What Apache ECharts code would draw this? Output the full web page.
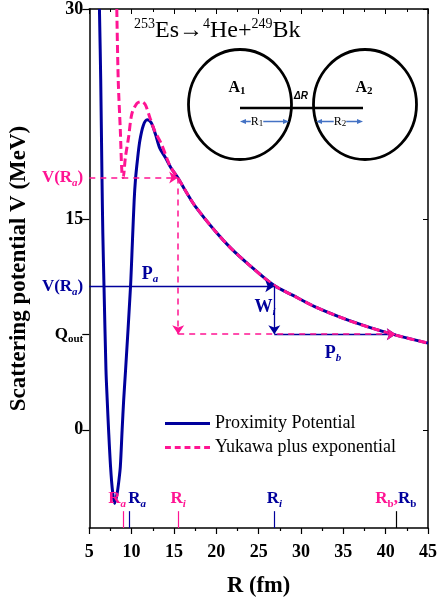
<!DOCTYPE html>
<html><head><meta charset="utf-8">
<script src="https://cdn.jsdelivr.net/npm/echarts@6/dist/echarts.min.js"></script>
<style>html,body{margin:0;padding:0;background:#fff}#c{width:440px;height:606px}</style>
</head><body><div id="c"></div>
<script>
// ---- data ----
const proxR = [6.2, 6.35, 6.5, 6.6, 6.74, 6.97, 7.12, 7.28, 7.51, 7.75, 8.0, 8.3, 8.5, 8.67, 8.88, 9.06, 9.29, 9.87, 10.1, 10.3, 10.45, 10.68, 10.97, 11.38, 11.84, 12.3, 12.8, 13.31, 14.0, 14.62, 15.43, 16.5, 17.5, 19.96, 21.8, 23.8, 26.8, 29.0, 31.55, 35.4, 38.0, 41.2, 45];
const proxV = [30, 25, 18, 14, 10.2, 4.3, 2.1, 0, -2.6, -4.4, -5.25, -4.5, -3.6, -2.6, 0, 2.1, 4.3, 10.2, 13.5, 16.35, 17.8, 19.2, 20.6, 21.7, 22.1, 21.9, 21.1, 20.1, 19.4, 18.7, 18.0, 16.9, 15.95, 14.1, 12.9, 11.8, 10.3, 9.6, 8.8, 7.85, 7.32, 6.75, 6.18];
const yukR = [8.25, 8.42, 8.67, 8.85, 9.0, 9.26, 9.64, 10.02, 10.6, 11.14, 11.6, 12.15, 12.73, 13.5, 14.2, 14.62, 15.43, 16.5, 17.5, 19.96, 21.8, 23.8, 26.8, 29.0, 31.55, 35.4, 38.0, 41.2, 45];
const yukV = [30, 24.9, 21.3, 18.4, 17.98, 19.4, 20.85, 22.5, 23.26, 23.4, 23.2, 22.27, 21.3, 20.4, 19.3, 18.7, 18.0, 16.9, 15.95, 14.1, 12.9, 11.8, 10.3, 9.6, 8.8, 7.85, 7.32, 6.75, 6.18];
const xTicks = [5, 10, 15, 20, 25, 30, 35, 40, 45];
const yTickLabels = [0, 15, 30];
const qOut = 6.82;
const vRaBlue = 10.23;
const vRaPink = 17.98;
const raPink = 9.0, riPink = 15.5;
const raBlue = 9.7, riBlue = 26.85;
const rB = 41.2;
const markTop = -5.8;
const yMin = -7, yMax = 30;

const BLUE = '#00009c', PINK = '#ff1493', SERIF = '"Liberation Serif","Times New Roman",serif';
const zip = (a, b) => a.map((v, i) => [v, b[i]]);

const chart = echarts.init(document.getElementById('c'), null, {renderer: 'canvas'});

const subRich = (c) => ({
  m: {color: c, fontFamily: SERIF, fontWeight: 'bold', fontSize: 17, lineHeight: 22},
  s: {color: c, fontFamily: SERIF, fontWeight: 'bold', fontStyle: 'italic', fontSize: 11, lineHeight: 22, verticalAlign: 'bottom', padding: [10, 0, 0, 0]}
});

function rLabel(sub, color, dx) {
  return {show: true, position: 'end', distance: 2, offset: [dx, 0], formatter: '{m|R}{s|' + sub + '}', rich: subRich(color)};
}

const arrowLine = (x1, y1, x2, y2, color, type, width) => [
  {coord: [x1, y1], lineStyle: {color: color, type: type, width: width}, symbol: 'none'},
  {coord: [x2, y2], symbol: 'arrow'}
];
const tickLine = (x, color, lbl) => [
  {coord: [x, yMin], lineStyle: {color: color, type: 'solid', width: 1.2}, label: lbl, symbol: 'none'},
  {coord: [x, markTop], symbol: 'none'}
];

const legendSolid = 'path://M0,0h46v3h-46z';
const legendDash = 'path://M0,0h6v3h-6zM10,0h6v3h-6zM20,0h6v3h-6zM30,0h6v3h-6zM40,0h6v3h-6z';

const option = {
  animation: false,
  grid: {left: 88, right: 7, top: 8, bottom: 78},
  xAxis: [{
    type: 'value', min: 5, max: 45, interval: 5,
    axisLine: {onZero: false, lineStyle: {color: '#000', width: 1.5}},
    axisTick: {inside: false, length: 6, lineStyle: {color: '#000', width: 1.2}},
    minorTick: {show: true, splitNumber: 2, length: 3, lineStyle: {color: '#000', width: 1.2}},
    splitLine: {show: false},
    axisLabel: {color: '#000', fontFamily: SERIF, fontWeight: 'bold', fontSize: 18, margin: 15,
      customValues: xTicks},
    name: 'R (fm)', nameLocation: 'middle', nameGap: 47,
    nameTextStyle: {color: '#000', fontFamily: SERIF, fontWeight: 'bold', fontSize: 22.5}
  }, {
    type: 'value', min: 5, max: 45, interval: 5, position: 'top',
    axisLine: {onZero: false, lineStyle: {color: '#000', width: 1.5}},
    axisTick: {inside: true, length: 5, lineStyle: {color: '#000', width: 1}},
    minorTick: {show: true, splitNumber: 2, length: 3, lineStyle: {color: '#000', width: 1}},
    splitLine: {show: false}, axisLabel: {show: false}
  }],
  yAxis: [{
    type: 'value', min: yMin, max: yMax,
    axisLine: {show: true, onZero: false, lineStyle: {color: '#000', width: 1.5}},
    axisTick: {show: true, inside: false, length: 7, lineStyle: {color: '#000', width: 1.2},
      customValues: [yTickLabels[0], qOut, yTickLabels[1], yTickLabels[2]]},
    splitLine: {show: false},
    axisLabel: {
      margin: 6,
      customValues: [yTickLabels[0], qOut, vRaBlue, yTickLabels[1], vRaPink, yTickLabels[2]],
      formatter: function (v) {
        if (Math.abs(v - qOut) < 1e-6) return '{q|Q}{qs|out}';
        if (Math.abs(v - vRaBlue) < 1e-6) return '{b|V(R}{bs|a}{b|)}';
        if (Math.abs(v - vRaPink) < 1e-6) return '{p|V(R}{ps|a}{p|)}';
        return '{n|' + v + '}';
      },
      rich: {
        n: {color: '#000', fontFamily: SERIF, fontWeight: 'bold', fontSize: 18, lineHeight: 22},
        q: {color: '#000', fontFamily: SERIF, fontWeight: 'bold', fontSize: 17, lineHeight: 22},
        qs: {color: '#000', fontFamily: SERIF, fontWeight: 'bold', fontSize: 11, lineHeight: 22, verticalAlign: 'bottom', padding: [10, 0, 0, 0]},
        b: {color: BLUE, fontFamily: SERIF, fontWeight: 'bold', fontSize: 17, lineHeight: 22},
        bs: {color: BLUE, fontFamily: SERIF, fontWeight: 'bold', fontStyle: 'italic', fontSize: 11, lineHeight: 22, verticalAlign: 'bottom', padding: [10, 0, 0, 0]},
        p: {color: PINK, fontFamily: SERIF, fontWeight: 'bold', fontSize: 17, lineHeight: 22},
        ps: {color: PINK, fontFamily: SERIF, fontWeight: 'bold', fontStyle: 'italic', fontSize: 11, lineHeight: 22, verticalAlign: 'bottom', padding: [10, 0, 0, 0]}
      }
    },
    name: 'Scattering potential V (MeV)', nameLocation: 'middle', nameGap: 46,
    nameTextStyle: {color: '#000', fontFamily: SERIF, fontWeight: 'bold', fontSize: 23}
  }, {
    type: 'value', min: yMin, max: yMax, position: 'right',
    axisLine: {show: true, onZero: false, lineStyle: {color: '#000', width: 1.5}},
    axisTick: {show: true, inside: true, length: 5, lineStyle: {color: '#000', width: 1},
      customValues: yTickLabels},
    axisLabel: {show: false}, splitLine: {show: false}
  }],
  legend: {
    data: [{name: 'Proximity Potential', icon: legendSolid}, {name: 'Yukawa plus exponential', icon: legendDash}],
    orient: 'vertical', left: 165, top: 414, padding: 0, itemWidth: 45, itemHeight: 3, itemGap: 5,
    textStyle: {color: '#000', fontFamily: SERIF, fontSize: 18, lineHeight: 19}
  },
  series: [{
    name: 'Proximity Potential', type: 'line', data: zip(proxR, proxV),
    symbol: 'none', smooth: 0.3, z: 3,
    lineStyle: {color: BLUE, width: 3}, itemStyle: {color: BLUE},
    markLine: {
      silent: true, symbolSize: 9, animation: false, symbol: 'none',
      label: {show: false},
      data: [
        arrowLine(5, vRaBlue, riBlue, vRaBlue, BLUE, 'solid', 1.3),
        arrowLine(riBlue, vRaBlue, riBlue, qOut, BLUE, 'solid', 1.3),
        arrowLine(riBlue, qOut, rB, qOut, BLUE, 'solid', 1.3),
        tickLine(raBlue, BLUE, rLabel('a', BLUE, 8)),
        tickLine(riBlue, BLUE, rLabel('i', BLUE, 0)),
        tickLine(rB, '#000', {show: true, position: 'end', distance: 2, offset: [0, 0],
          formatter: '{pm|R}{ps|b}{c|,}{m|R}{s|b}',
          rich: Object.assign({}, subRich(BLUE), {
            s: {color: BLUE, fontFamily: SERIF, fontWeight: 'bold', fontSize: 11, lineHeight: 22, verticalAlign: 'bottom', padding: [10, 0, 0, 0]},
            pm: {color: PINK, fontFamily: SERIF, fontWeight: 'bold', fontSize: 17, lineHeight: 22},
            ps: {color: PINK, fontFamily: SERIF, fontWeight: 'bold', fontSize: 11, lineHeight: 22, verticalAlign: 'bottom', padding: [10, 0, 0, 0]},
            c: {color: PINK, fontFamily: SERIF, fontWeight: 'bold', fontSize: 17, lineHeight: 22}
          })})
      ]
    }
  }, {
    name: 'Yukawa plus exponential', type: 'line', data: zip(yukR, yukV),
    symbol: 'none', smooth: 0.3, z: 4,
    lineStyle: {color: PINK, width: 3, type: [8, 4]}, itemStyle: {color: PINK},
    markLine: {
      silent: true, symbolSize: 9, animation: false, symbol: 'none',
      label: {show: false},
      data: [
        arrowLine(5, vRaPink, riPink, vRaPink, PINK, [6, 5], 1.5),
        arrowLine(riPink, vRaPink, riPink, qOut, PINK, [6, 5], 1.5),
        arrowLine(riPink, qOut, rB, qOut, PINK, [6, 5], 1.5),
        tickLine(raPink, PINK, rLabel('a', PINK, -6)),
        tickLine(riPink, PINK, rLabel('i', PINK, 0))
      ]
    }
  }],
  graphic: [
    {type: 'text', left: 134, top: 17, style: {
      text: '{s|253}{t|Es→}{s|4}{t|He+}{s|249}{t|Bk}',
      rich: {
        t: {fontFamily: SERIF, fontSize: 24, fill: '#000', lineHeight: 28},
        s: {fontFamily: SERIF, fontSize: 14, fill: '#000', lineHeight: 28, verticalAlign: 'top', padding: [0, 0, 11, 0]}
      }}},
    {type: 'ellipse', shape: {cx: 240, cy: 104.5, rx: 51.5, ry: 55}, style: {fill: 'none', stroke: '#000', lineWidth: 2.8}},
    {type: 'ellipse', shape: {cx: 365, cy: 104.5, rx: 51.5, ry: 55}, style: {fill: 'none', stroke: '#000', lineWidth: 2.8}},
    {type: 'line', shape: {x1: 240, y1: 108, x2: 363, y2: 108}, style: {stroke: '#000', lineWidth: 2.5}},
    {type: 'text', x: 237, y: 88, style: {text: '{m|A}{s|1}', align: 'center', verticalAlign: 'middle',
      rich: {m: {fontFamily: SERIF, fontWeight: 'bold', fontSize: 16, fill: '#000', lineHeight: 18}, s: {fontFamily: SERIF, fontWeight: 'bold', fontSize: 11, fill: '#000', lineHeight: 18, verticalAlign: 'bottom', padding: [7, 0, 0, 0]}}}},
    {type: 'text', x: 364, y: 88, style: {text: '{m|A}{s|2}', align: 'center', verticalAlign: 'middle',
      rich: {m: {fontFamily: SERIF, fontWeight: 'bold', fontSize: 16, fill: '#000', lineHeight: 18}, s: {fontFamily: SERIF, fontWeight: 'bold', fontSize: 11, fill: '#000', lineHeight: 18, verticalAlign: 'bottom', padding: [7, 0, 0, 0]}}}},
    {type: 'text', x: 301, y: 96, style: {text: 'ΔR', align: 'center', verticalAlign: 'middle', fontFamily: '"Liberation Sans",Arial,sans-serif', fontStyle: 'italic', fontWeight: 'bold', fontSize: 10, fill: '#000'}},
    {type: 'line', shape: {x1: 243, y1: 121.5, x2: 286, y2: 121.5}, style: {stroke: '#4472c4', lineWidth: 1.3}},
    {type: 'polygon', shape: {points: [[240, 121.5], [246, 119], [246, 124]]}, style: {fill: '#4472c4'}},
    {type: 'polygon', shape: {points: [[289, 121.5], [283, 119], [283, 124]]}, style: {fill: '#4472c4'}},
    {type: 'text', x: 257, y: 121.5, style: {text: '{m|R}{s|1}', align: 'center', verticalAlign: 'middle',
      rich: {m: {fontFamily: SERIF, fontSize: 12, fill: '#000', lineHeight: 13, backgroundColor: '#fff'}, s: {fontFamily: SERIF, fontSize: 9, fill: '#000', lineHeight: 13, verticalAlign: 'bottom', padding: [4, 0, 0, 0], backgroundColor: '#fff'}}}},
    {type: 'line', shape: {x1: 319, y1: 121.5, x2: 360, y2: 121.5}, style: {stroke: '#4472c4', lineWidth: 1.3}},
    {type: 'polygon', shape: {points: [[316, 121.5], [322, 119], [322, 124]]}, style: {fill: '#4472c4'}},
    {type: 'polygon', shape: {points: [[363, 121.5], [357, 119], [357, 124]]}, style: {fill: '#4472c4'}},
    {type: 'text', x: 340, y: 121.5, style: {text: '{m|R}{s|2}', align: 'center', verticalAlign: 'middle',
      rich: {m: {fontFamily: SERIF, fontSize: 12, fill: '#000', lineHeight: 13, backgroundColor: '#fff'}, s: {fontFamily: SERIF, fontSize: 9, fill: '#000', lineHeight: 13, verticalAlign: 'bottom', padding: [4, 0, 0, 0], backgroundColor: '#fff'}}}},
    {type: 'text', x: 150, y: 274, style: {text: '{m|P}{s|a}', align: 'center', verticalAlign: 'middle',
      rich: {m: {fontFamily: SERIF, fontWeight: 'bold', fontSize: 18, fill: BLUE, lineHeight: 22}, s: {fontFamily: SERIF, fontWeight: 'bold', fontStyle: 'italic', fontSize: 11, fill: BLUE, lineHeight: 22, verticalAlign: 'bottom', padding: [10, 0, 0, 0]}}}},
    {type: 'text', x: 265, y: 307, style: {text: '{m|W}{s|i}', align: 'center', verticalAlign: 'middle',
      rich: {m: {fontFamily: SERIF, fontWeight: 'bold', fontSize: 18, fill: BLUE, lineHeight: 22}, s: {fontFamily: SERIF, fontWeight: 'bold', fontStyle: 'italic', fontSize: 11, fill: BLUE, lineHeight: 22, verticalAlign: 'bottom', padding: [10, 0, 0, 0]}}}},
    {type: 'text', x: 333, y: 353, style: {text: '{m|P}{s|b}', align: 'center', verticalAlign: 'middle',
      rich: {m: {fontFamily: SERIF, fontWeight: 'bold', fontSize: 18, fill: BLUE, lineHeight: 22}, s: {fontFamily: SERIF, fontWeight: 'bold', fontStyle: 'italic', fontSize: 11, fill: BLUE, lineHeight: 22, verticalAlign: 'bottom', padding: [10, 0, 0, 0]}}}}
  ]
};
chart.setOption(option);
</script></body></html>
